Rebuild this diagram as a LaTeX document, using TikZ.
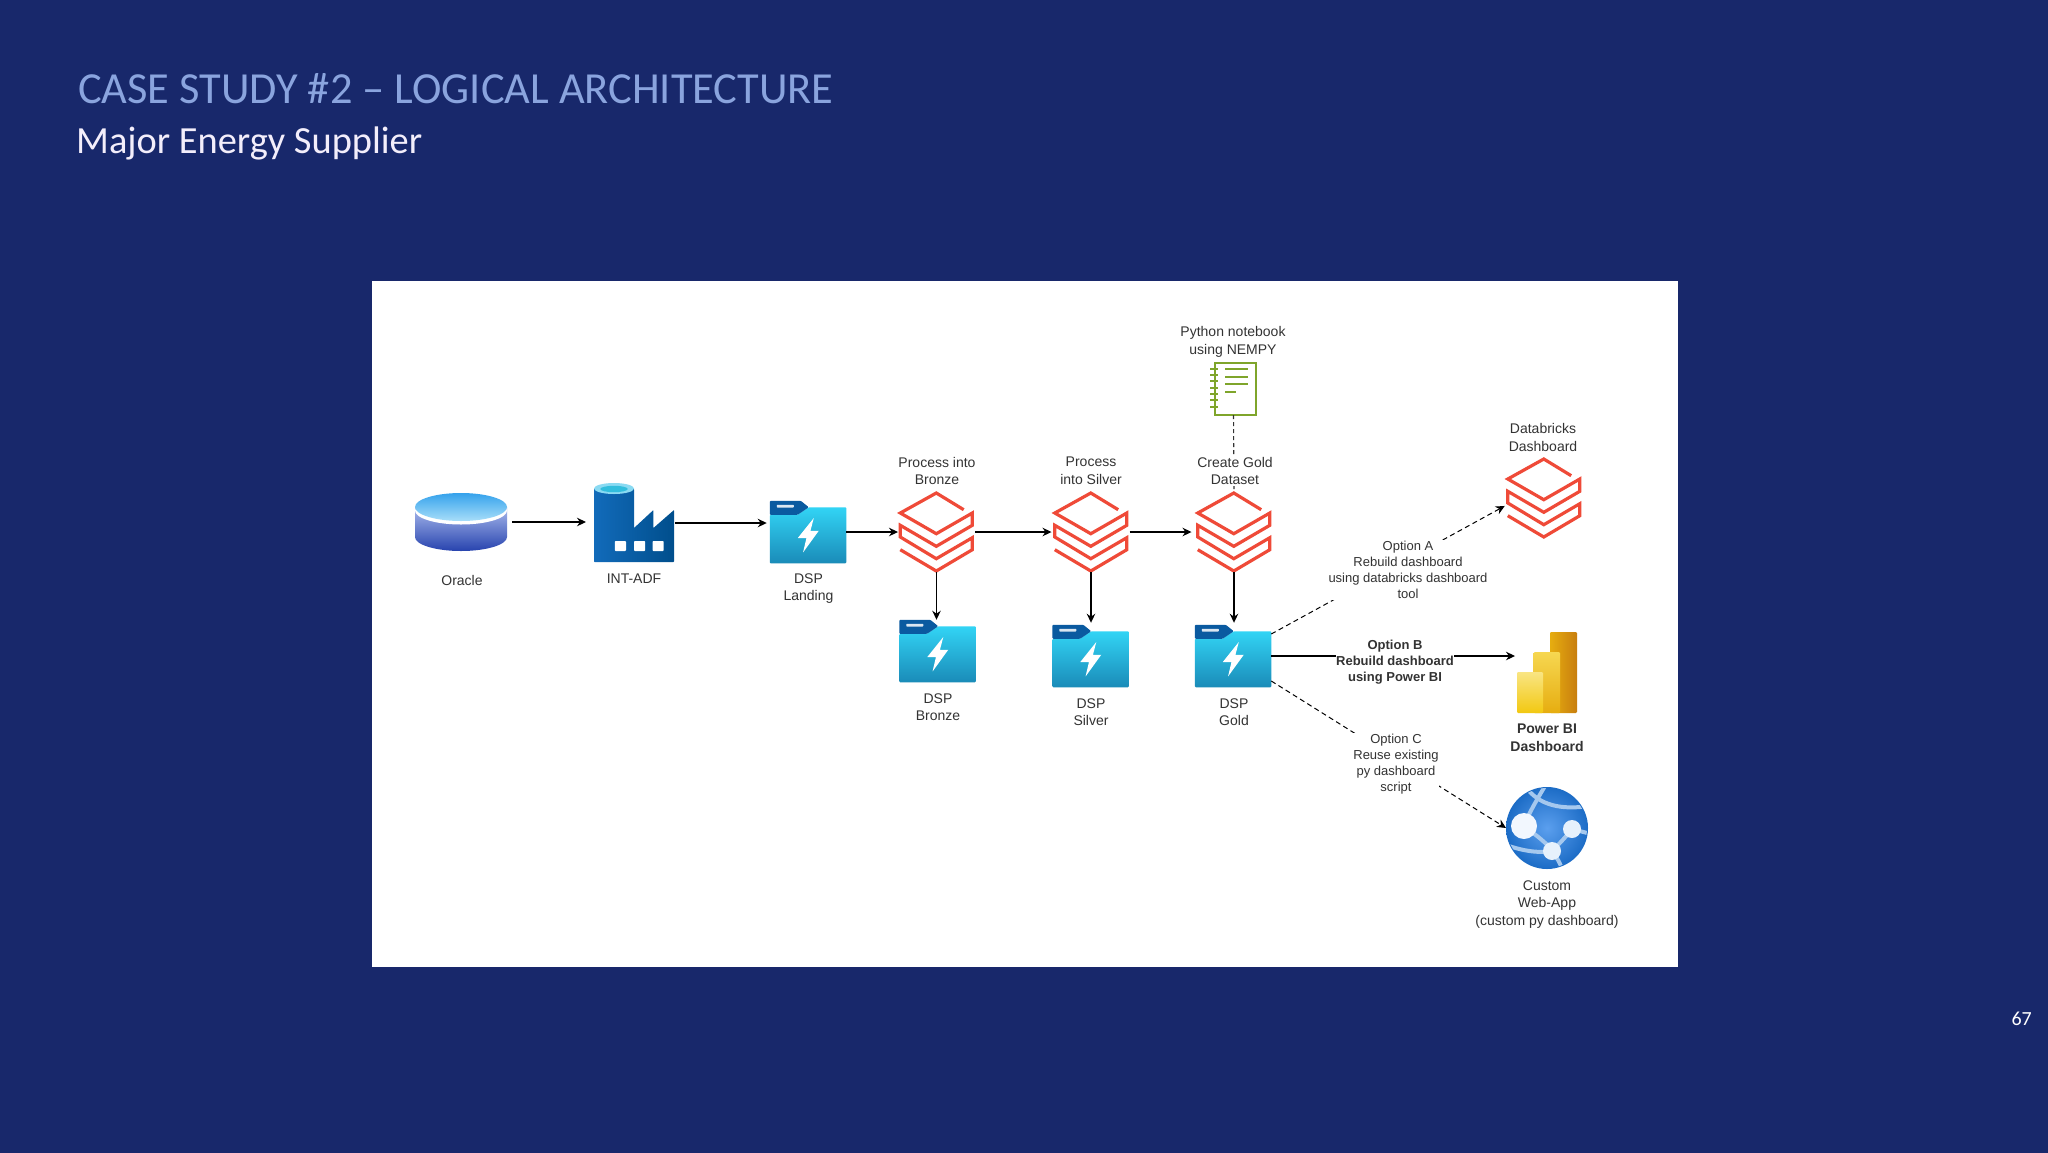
\documentclass[tikz,border=0pt]{standalone}
\usepackage{fontspec}
\setmainfont{Liberation Sans}
\newfontfamily\slidefont{Carlito}
\usetikzlibrary{arrows.meta}
\definecolor{slidebg}{HTML}{18286B}
\definecolor{titleblue}{HTML}{8AA4DE}
\definecolor{subwhite}{HTML}{F3EEFB}
\definecolor{txt}{HTML}{333333}
\definecolor{dbred}{HTML}{EF4A38}
\definecolor{nbgreen}{HTML}{7FA52B}
\definecolor{folderhi}{HTML}{32D4F5}
\definecolor{folderlo}{HTML}{1A8BB8}
\definecolor{foldertab}{HTML}{0A5AA0}
\definecolor{cylhi}{HTML}{A8B9EC}
\definecolor{cyllo}{HTML}{2743AE}
\definecolor{ellhi}{HTML}{35A2EC}
\definecolor{elllo}{HTML}{A8DEF9}
\definecolor{facl}{HTML}{126BBA}
\definecolor{facr}{HTML}{004E8C}
\definecolor{faclight}{HTML}{8ADAF2}
\definecolor{facinner}{HTML}{32BEDD}
\definecolor{pbia}{HTML}{E6AD10}
\definecolor{pbib}{HTML}{C87E0E}
\definecolor{pbic}{HTML}{F6D751}
\definecolor{pbid}{HTML}{F2C811}
\definecolor{pbie}{HTML}{F9E583}
\definecolor{webin}{HTML}{5B9FEE}
\definecolor{webout}{HTML}{1C6CC6}
\definecolor{webband}{HTML}{A5C8EE}
\tikzset{
  x=1pt,y=-1pt,
  icon/.style 2 args={rectangle,draw=none,inner sep=0pt,outer sep=0pt,minimum width=#1,minimum height=#2},
  lab/.style={align=center,inner xsep=0pt,inner ysep=1.5pt,fill=white,text=txt,font=\fontsize{14}{17.6}\selectfont},
  blab/.style={lab,font=\fontsize{14}{17.6}\selectfont\bfseries},
  arrow/.style={line width=1.1pt,black,-{Stealth[length=9pt,width=8.5pt]}},
  dasharrow/.style={arrow,line width=1pt,dash pattern=on 5pt off 3.5pt},
  dashline/.style={line width=1.1pt,txt,dash pattern=on 4pt off 3pt},
  folder/.pic={
    \path[rounded corners=1pt,top color=folderhi,bottom color=folderlo]
      (0,14)--(28,14)--(39,6.5)--(76.5,6.5)--(76.5,62.5)--(0,62.5)--cycle;
    \path[fill=foldertab,rounded corners=1pt] (0,0)--(31,0)--(39,6.5)--(28,14)--(0,14)--cycle;
    \path[fill=white!85!foldertab,rounded corners=.7pt] (7,4)rectangle(24,6.8);
    \path[fill=white] (44,17.3)--(28,37.3)--(36.7,37.3)--(33.3,51.7)--(49,30)--(40.7,30)--cycle;
  },
  stack/.pic={
    \draw[dbred,line width=3.2pt,miter limit=4,line join=miter]
      (64.7,17.7)--(37.3,1)--(1.3,21)--(37.3,41.7)--(73.3,21)--(73.3,33.3)--(37.3,54.3)--(1.3,33.3)
      --(1.3,45)--(37.3,66.7)--(73.3,45.7)--(73.3,57.7)--(37.3,79)--(1.3,57.7);
  },
  cylinder/.pic={
    \path[top color=cylhi,bottom color=cyllo] (0,14)--(0,44) arc[start angle=180,end angle=0,x radius=40,y radius=14]--(80,14)--cycle;
    \path[fill=white] (40,17.5) ellipse[x radius=40,y radius=14];
    \path[top color=ellhi,bottom color=elllo] (40,14) ellipse[x radius=40,y radius=14];
  },
  factory/.pic={
    \path[left color=facl,right color=facr,rounded corners=.6pt]
      (0,6)--(0,79)--(70,79)--(70,27)--(52,45)--(52,27)--(35,45)--(35,6)--cycle;
    \path[fill=faclight] (17.5,5.5) ellipse[x radius=17.5,y radius=5.5];
    \path[fill=facinner] (17.5,6) ellipse[x radius=12,y radius=3.2];
    \foreach \wx in {18.3,35,51.3}
      \path[fill=white,rounded corners=.8pt] (\wx,58)rectangle++(9.7,10);
  },
  notebook/.pic={
    \draw[nbgreen,line width=2pt] (4.5,.8)rectangle(46.2,52.6);
    \foreach \ty in {7,13,19,26,32,38,45}
      \draw[nbgreen,line width=1.8pt] (0,\ty)--(8,\ty);
    \foreach \ty in {7,15,22}
      \draw[nbgreen,line width=1.8pt] (15,\ty)--(38,\ty);
    \draw[nbgreen,line width=1.8pt] (15,30)--(26,30);
  },
  powerbi/.pic={
    \path[left color=pbia,right color=pbib,rounded corners=1.2pt] (33,0)rectangle(60,81);
    \path[top color=pbic,bottom color=pbia,rounded corners=1.2pt] (16.7,20)rectangle(43,81);
    \path[top color=pbie,bottom color=pbid,rounded corners=1.2pt] (0,40)rectangle(26,81);
  },
  webapp/.pic={
    \path[inner color=webin,outer color=webout] (0,0) circle[radius=41];
    \begin{scope}
      \clip (0,0) circle[radius=40];
      \draw[webband,line width=4pt] (-22,-42) .. controls (-8,-22) and (15,-18) .. (42,-22);
      \draw[webband,line width=4pt] (-2,-42) .. controls (-12,-25) and (-18,-15) .. (-23,-2);
      \draw[webband,line width=4pt] (-23,-2) .. controls (-10,8) and (0,15) .. (5,23);
      \draw[webband,line width=4pt] (-38,18) .. controls (-20,24) and (-5,25) .. (5,23);
      \draw[webband,line width=4pt] (25,1) .. controls (18,10) and (10,18) .. (5,23);
      \draw[webband,line width=4pt] (5,23) .. controls (10,30) and (14,36) .. (15,42);
      \draw[webband,line width=4pt] (25,1) -- (44,6);
    \end{scope}
    \path[fill=white!92!webin] (-23,-2) circle[radius=13];
    \path[fill=white!85!webin] (25,1) circle[radius=9];
    \path[fill=white!85!webin] (5,23) circle[radius=9];
  },
}
\begin{document}
\begin{tikzpicture}
\useasboundingbox (0,0) rectangle (2048,1152);
\path[fill=slidebg] (-3,-3) rectangle (2051,1155);
\path[fill=white] (372,281) rectangle (1678,967);

% slide text
\node[anchor=base west,inner sep=0pt,text=titleblue,font=\slidefont\fontsize{44.4}{50}\selectfont] (title) at (78,103) {CASE STUDY \#2 – LOGICAL ARCHITECTURE};
\node[anchor=base west,inner sep=0pt,text=subwhite,font=\slidefont\fontsize{38.4}{44}\selectfont] (subtitle) at (76,153) {Major Energy Supplier};
\node[anchor=base east,inner sep=0pt,text=white,font=\slidefont\fontsize{20}{24}\selectfont] (pageno) at (2032,1025) {67};

% icon boxes
\node[icon={92}{58}] (oracle) at (461,522) {};
\node[icon={80}{80}] (adf) at (634,523) {};
\node[icon={76.5}{62.5}] (landing) at (808,532) {};
\node[icon={75}{80}] (pbronze) at (936.5,532) {};
\node[icon={75}{80}] (psilver) at (1091,532) {};
\node[icon={75}{80}] (pgold) at (1234,532) {};
\node[icon={76.5}{62.5}] (dbronze) at (937.5,651) {};
\node[icon={76.5}{62.5}] (dsilver) at (1090.5,656) {};
\node[icon={76.5}{62.5}] (dgold) at (1233,656) {};
\node[icon={47}{53}] (nb) at (1233.5,388.5) {};
\node[icon={75}{80}] (dbdash) at (1544,498) {};
\node[icon={60}{81}] (pbi) at (1547,672.5) {};
\node[icon={82}{80}] (web) at (1547,828) {};

\pic[xscale=1.15] at (oracle.north west) {cylinder};
\pic[xscale=1.143] at (adf.north west) {factory};
\pic at (landing.north west) {folder};
\pic at (pbronze.north west) {stack};
\pic at (psilver.north west) {stack};
\pic at (pgold.north west) {stack};
\pic at (dbronze.north west) {folder};
\pic at (dsilver.north west) {folder};
\pic at (dgold.north west) {folder};
\pic at (nb.north west) {notebook};
\pic at (dbdash.north west) {stack};
\pic at (pbi.north west) {powerbi};
\pic at (web.center) {webapp};

% connectors
\draw[arrow,shorten <=5pt,shorten >=8pt] (oracle.east) -- (oracle.east -| adf.west);
\draw[arrow,shorten <=1pt,shorten >=3pt] (adf.east) -- (adf.east -| landing.west);
\draw[arrow,shorten >=1pt] (landing.east) -- (pbronze.west);
\draw[arrow,shorten <=1pt,shorten >=2pt] (pbronze.east) -- (psilver.west);
\draw[arrow,shorten <=1pt,shorten >=5pt] (psilver.east) -- (pgold.west);
\draw[arrow] (pbronze.south) -- (pbronze.south |- dbronze.north);
\draw[arrow,shorten >=2pt] (psilver.south) -- (psilver.south |- dsilver.north);
\draw[arrow,shorten >=2pt] (pgold.south) -- (pgold.south |- dgold.north);
\draw[dashline] (nb.south) -- (pgold.north);
\draw[dasharrow,shorten >=2pt] ([yshift=22pt]dgold.east) -- ([yshift=-7pt]dbdash.west);
\draw[arrow,shorten >=2pt] (dgold.east) -- (dgold.east -| pbi.west);
\draw[dasharrow] ([yshift=-25pt]dgold.east) -- (web.west);

% labels
\node[lab] (lbloracle) at (462,580) {Oracle};
\node[lab] (lbladf) at (634,579) {INT-ADF};
\node[lab] (lbllanding) at (808.5,588.5) {DSP\\Landing};
\node[lab] (lblpb) at (937,471) {Process into\\Bronze};
\node[lab] (lblps) at (1091,471) {Process\\into Silver};
\node[lab] (lblpg) at (1235,471) {Create Gold\\Dataset};
\node[lab] (lbldb) at (938,707) {DSP\\Bronze};
\node[lab] (lblds) at (1091,712) {DSP\\Silver};
\node[lab] (lbldg) at (1234,712) {DSP\\Gold};
\node[lab] (lblnb) at (1233,342) {Python notebook\\using NEMPY};
\node[lab] (lbldash) at (1543,437.5) {Databricks\\Dashboard};
\node[lab,font=\fontsize{13}{15.9}\selectfont] (opta) at (1408,570) {Option A\\Rebuild dashboard\\using databricks dashboard\\tool};
\node[blab,font=\fontsize{13}{15.9}\selectfont\bfseries] (optb) at (1395,662) {Option B\\Rebuild dashboard\\using Power BI};
\node[lab,font=\fontsize{13}{15.9}\selectfont] (optc) at (1396,764) {Option C\\Reuse existing\\py dashboard\\script};
\node[blab] (lblpbi) at (1547,738) {Power BI\\Dashboard};
\node[lab] (lblweb) at (1547,904.5) {Custom\\Web-App\\(custom py dashboard)};
\end{tikzpicture}
\end{document}
